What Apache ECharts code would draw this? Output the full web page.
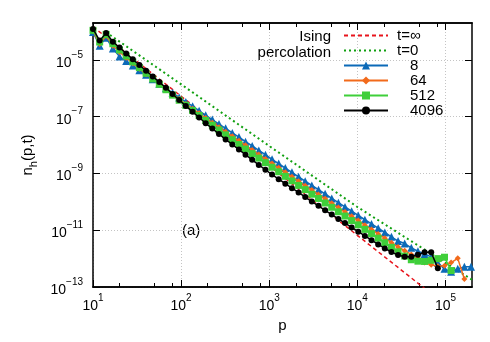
<!DOCTYPE html>
<html>
<head>
<meta charset="utf-8">
<script src="https://cdn.jsdelivr.net/npm/echarts@6/dist/echarts.min.js"></script>
<style>
  html, body { margin: 0; background: #fff; }
  #chart { width: 490px; height: 342px; }
</style>
</head>
<body>
<div id="chart"></div>
<script>
// cluster size p (log bins)
const pVals = [10, 11.9, 14.1, 16.8, 20, 23.8, 28.3, 33.6, 40, 47.6, 56.6, 67.3, 80, 95.1, 113, 135, 160, 190, 226, 269,
  320, 381, 453, 538, 640, 761, 905, 1076, 1280, 1522, 1810, 2153, 2560, 3044, 3620, 4305, 5120, 6089, 7241, 8611,
  10240, 12177, 14482, 17222, 20480, 24355, 28963, 34443, 40960, 48710, 57926, 68886, 81920, 97420, 115852, 137771, 163840, 194839]

const n8 = [9.55e-5, 3.16e-5, 6.03e-5, 2.51e-5, 1.32e-5, 9.12e-6, 6.31e-6, 4.37e-6, 3.02e-6, 2.09e-6,
  1.45e-6, 1.00e-6, 6.92e-7, 4.79e-7, 3.31e-7, 2.34e-7, 1.62e-7, 1.12e-7, 7.94e-8, 5.50e-8,
  3.89e-8, 2.69e-8, 1.91e-8, 1.32e-8, 9.33e-9, 6.46e-9, 4.57e-9, 3.16e-9, 2.24e-9, 1.55e-9,
  1.10e-9, 7.59e-10, 5.37e-10, 3.80e-10, 2.69e-10, 1.91e-10, 1.32e-10, 9.33e-11, 6.61e-11, 4.68e-11,
  3.31e-11, 2.34e-11, 1.66e-11, 1.18e-11, 8.32e-12, 5.89e-12, 4.17e-12, 3.39e-12, 2.40e-12, 1.82e-12,
  1.45e-12, 1.15e-12, 7.08e-13, 4.37e-13, 3.47e-13, 4.37e-13, 5.13e-13, 5.13e-13]

const n64 = [1.05e-4, 3.63e-5, 7.08e-5, 3.16e-5, 1.91e-5, 1.20e-5, 7.59e-6, 4.90e-6, 3.16e-6, 2.09e-6,
  1.38e-6, 9.12e-7, 6.17e-7, 4.17e-7, 2.82e-7, 1.91e-7, 1.32e-7, 8.91e-8, 6.17e-8, 4.27e-8,
  2.95e-8, 2.04e-8, 1.41e-8, 9.77e-9, 6.76e-9, 4.68e-9, 3.24e-9, 2.24e-9, 1.58e-9, 1.10e-9,
  7.59e-10, 5.37e-10, 3.72e-10, 2.63e-10, 1.82e-10, 1.29e-10, 8.91e-11, 6.31e-11, 4.37e-11, 3.09e-11,
  2.19e-11, 1.51e-11, 1.07e-11, 7.41e-12, 5.25e-12, 3.63e-12, 2.57e-12, 1.91e-12, 1.41e-12, 1.00e-12,
  7.24e-13, 6.03e-13, 5.37e-13, 5.62e-13, 7.24e-13, 1.02e-12, 1.91e-13]

const n512 = [1.10e-4, 4.27e-5, 7.94e-5, 3.72e-5, 2.24e-5, 1.38e-5, 8.51e-6, 5.37e-6, 3.39e-6, 2.14e-6,
  1.38e-6, 8.91e-7, 5.75e-7, 3.80e-7, 2.51e-7, 1.66e-7, 1.10e-7, 7.41e-8, 5.01e-8, 3.39e-8,
  2.29e-8, 1.55e-8, 1.05e-8, 7.24e-9, 5.01e-9, 3.47e-9, 2.40e-9, 1.66e-9, 1.15e-9, 7.94e-10,
  5.50e-10, 3.80e-10, 2.69e-10, 1.86e-10, 1.32e-10, 9.12e-11, 6.46e-11, 4.47e-11, 3.16e-11, 2.19e-11,
  1.55e-11, 1.07e-11, 7.59e-12, 5.25e-12, 3.63e-12, 2.51e-12, 1.74e-12, 1.23e-12, 9.12e-13, 8.13e-13,
  7.94e-13, 8.71e-13, 1.00e-12, 1.12e-12, 3.80e-13]

const n4096 = [1.23e-4, 4.79e-5, 8.91e-5, 4.37e-5, 2.75e-5, 1.70e-5, 1.05e-5, 6.61e-6, 4.17e-6, 2.63e-6,
  1.66e-6, 1.05e-6, 6.31e-7, 3.89e-7, 2.40e-7, 1.48e-7, 9.33e-8, 5.89e-8, 3.80e-8, 2.45e-8,
  1.58e-8, 1.05e-8, 6.92e-9, 4.57e-9, 3.02e-9, 2.00e-9, 1.35e-9, 9.12e-10, 6.31e-10, 4.37e-10,
  3.02e-10, 2.14e-10, 1.48e-10, 1.02e-10, 7.24e-11, 5.01e-11, 3.55e-11, 2.51e-11, 1.78e-11, 1.26e-11,
  8.91e-12, 6.31e-12, 4.47e-12, 3.16e-12, 2.29e-12, 1.70e-12, 1.35e-12, 1.17e-12, 1.17e-12, 1.38e-12,
  1.66e-12, 1.66e-12, 4.57e-13]

// reference curves
const isingP = [10, 100, 1000, 10000, 100000]
const isingN = [1.48e-4, 5.25e-7, 1.86e-9, 6.61e-12, 2.34e-14]
const percP = [14, 100, 1000, 10000, 100000, 200000]
const percN = [9.55e-5, 1.38e-6, 9.3e-9, 6.6e-11, 7.1e-13, 1.8e-13]

// axis ticks
const xMajor = [10, 100, 1000, 10000, 100000]
const xMinor = [20, 50, 80, 200, 500, 800, 2000, 5000, 8000, 20000, 50000, 80000]
const yMajor = [1e-13, 1e-11, 1e-9, 1e-7, 1e-5]

const FONT = 'Liberation Sans'
const BLUE = '#0c6ab8'
const ORANGE = '#f26a1b'
const GREEN = '#3fcf3a'
const BLACK = '#000000'

const pair = (xs, ys) => ys.map((v, i) => [xs[i], v])

function powLabel(v) {
  const e = Math.round(Math.log10(v))
  return '{b|10}{s|' + (e < 0 ? '\u2212' + (-e) : e) + '}'
}

const labelRich = {
  b: { fontSize: 14, fontFamily: FONT, color: '#000', verticalAlign: 'bottom' },
  s: { fontSize: 10, fontFamily: FONT, color: '#000', verticalAlign: 'top', padding: [0, 0, 10, 0] },
}

const frameLine = { show: true, lineStyle: { color: '#000', width: 1.5 } }

function xAxisDef(position, minor, showLabel) {
  return {
    type: 'log',
    position,
    min: 10,
    max: 200000,
    axisLine: frameLine,
    axisTick: { show: true, inside: true, length: minor ? 4 : 7, lineStyle: { color: '#000', width: 1 }, customValues: minor ? xMinor : xMajor },
    axisLabel: showLabel
      ? { show: true, customValues: xMajor, formatter: powLabel, rich: labelRich, margin: 6 }
      : { show: false },
    splitLine: (!minor && showLabel)
      ? { show: true, lineStyle: { color: '#c4c4c4', type: [1, 2], width: 1 } }
      : { show: false },
  }
}

const chart = echarts.init(document.getElementById('chart'))

chart.setOption({
  animation: false,
  grid: { left: 93, right: 18, top: 23, bottom: 55 },
  xAxis: [
    Object.assign(xAxisDef('bottom', false, true), {
      name: 'p', nameLocation: 'middle', nameGap: 30,
      nameTextStyle: { fontSize: 15, fontFamily: FONT, color: '#000' },
    }),
    xAxisDef('bottom', true, false),
    xAxisDef('top', false, false),
    xAxisDef('top', true, false),
  ],
  yAxis: [
    {
      type: 'log',
      position: 'left',
      min: 1e-13,
      max: 2e-4,
      axisLine: frameLine,
      axisTick: { show: true, inside: true, length: 7, lineStyle: { color: '#000' }, customValues: yMajor },
      axisLabel: { customValues: yMajor, formatter: powLabel, rich: labelRich, margin: 10 },
      splitLine: { show: true, lineStyle: { color: '#c4c4c4', type: [1, 2], width: 1 } },
      name: '{a|n}{h|h}{a|(p,t)}',
      nameLocation: 'middle',
      nameGap: 50,
      nameRotate: 90,
      nameTextStyle: {
        rich: {
          a: { fontSize: 15, fontFamily: FONT, color: '#000', verticalAlign: 'top' },
          h: { fontSize: 11, fontFamily: FONT, color: '#000', verticalAlign: 'bottom', padding: [8, 0, 0, 0] },
        },
      },
    },
    {
      type: 'log',
      position: 'right',
      min: 1e-13,
      max: 2e-4,
      axisLine: frameLine,
      axisTick: { show: true, inside: true, length: 7, lineStyle: { color: '#000' }, customValues: yMajor },
      axisLabel: { show: false },
      splitLine: { show: false },
    },
  ],
  legend: {
    orient: 'vertical',
    left: 343,
    top: 28,
    padding: 0,
    itemWidth: 44,
    itemHeight: 10,
    itemGap: 0,
    data: [
      { name: 't=\u221e', itemStyle: { opacity: 0 } },
      { name: 't=0', itemStyle: { opacity: 0 } },
      '8', '64', '512', '4096',
    ],
    formatter: name => name.startsWith('t=') ? '{t|' + name + '}' : '{n|' + name + '}',
    textStyle: {
      rich: {
        t: { fontSize: 15, fontFamily: FONT, color: '#000', lineHeight: 16, padding: [0, 0, 0, 4] },
        n: { fontSize: 15, fontFamily: FONT, color: '#000', lineHeight: 16, padding: [0, 0, 0, 17] },
      },
    },
  },
  graphic: [
    { type: 'text', right: 490 - 331, top: 29, style: { text: 'Ising', font: '15px ' + FONT, fill: '#000', textAlign: 'right' } },
    { type: 'text', right: 490 - 331, top: 45, style: { text: 'percolation', font: '15px ' + FONT, fill: '#000', textAlign: 'right' } },
    { type: 'text', left: 182, top: 223, style: { text: '(a)', font: '15px ' + FONT, fill: '#000' } },
  ],
  series: [
    {
      name: 't=\u221e', type: 'line', data: pair(isingP, isingN), symbol: 'none',
      lineStyle: { color: '#e8141c', width: 1.5, type: [4, 3] }, itemStyle: { color: '#e8141c' }, z: 2,
    },
    {
      name: 't=0', type: 'line', data: pair(percP, percN), symbol: 'none',
      lineStyle: { color: '#10a010', width: 2, type: [2, 3] }, itemStyle: { color: '#10a010' }, z: 2,
    },
    {
      name: '8', type: 'line', data: pair(pVals, n8), symbol: 'triangle', symbolSize: 8,
      lineStyle: { color: BLUE, width: 1.5 }, itemStyle: { color: BLUE }, z: 3,
    },
    {
      name: '64', type: 'line', data: pair(pVals, n64), symbol: 'diamond', symbolSize: 6,
      lineStyle: { color: ORANGE, width: 1.5 }, itemStyle: { color: ORANGE }, z: 4,
    },
    {
      name: '512', type: 'line', data: pair(pVals, n512), symbol: 'rect', symbolSize: 7,
      lineStyle: { color: GREEN, width: 1.5 }, itemStyle: { color: GREEN }, z: 5,
    },
    {
      name: '4096', type: 'line', data: pair(pVals, n4096), symbol: 'circle', symbolSize: 6,
      lineStyle: { color: BLACK, width: 1.5 }, itemStyle: { color: BLACK }, z: 6,
    },
  ],
})
</script>
</body>
</html>
